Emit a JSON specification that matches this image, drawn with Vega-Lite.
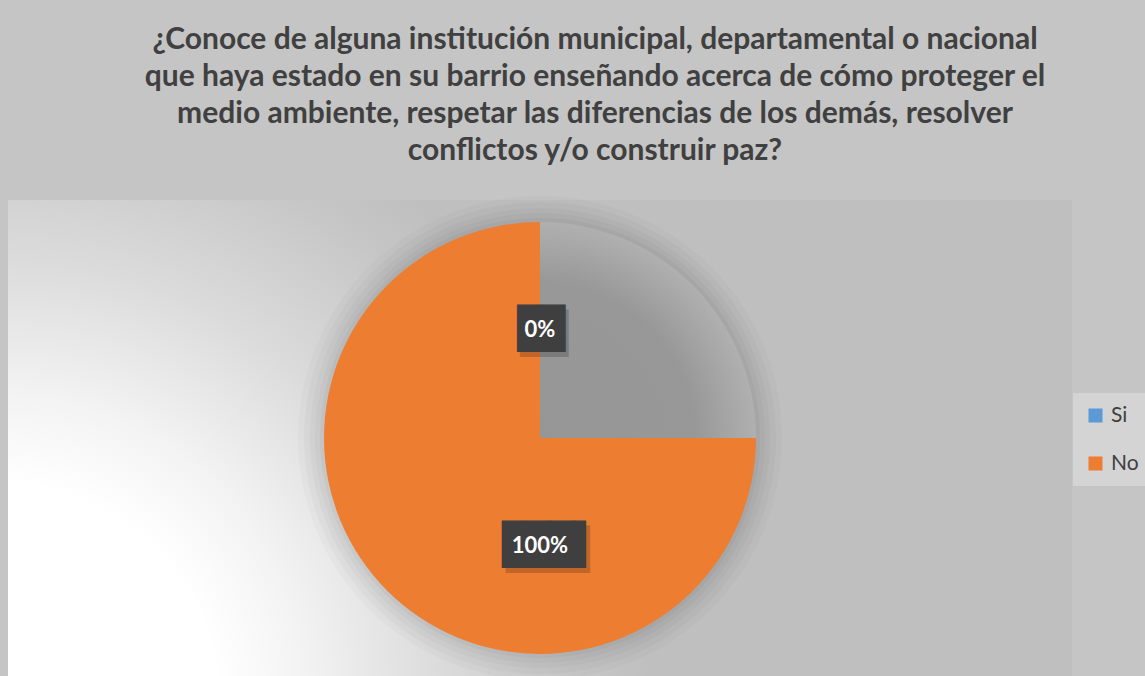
{
  "$schema": "https://vega.github.io/schema/vega-lite/v6.json",
  "width": 1064,
  "height": 476,
  "autosize": {"type": "none"},
  "padding": {"left": 8, "top": 200, "right": 73, "bottom": 0},
  "background": "#c5c5c5",
  "title": {
    "text": [
      "¿Conoce de alguna institución municipal, departamental o nacional",
      "que haya estado en su barrio enseñando acerca de cómo proteger el",
      "medio ambiente, respetar las diferencias de los demás, resolver",
      "conflictos y/o construir paz?"
    ],
    "font": "Lato",
    "fontSize": 30,
    "fontWeight": "bold",
    "color": "#404040",
    "lineHeight": 37,
    "anchor": "middle",
    "dx": 55,
    "offset": 30
  },
  "config": {"view": {"stroke": null}},
  "datasets": {
    "respuestas": [
      {"c": "Si", "v": 0, "orden": 1},
      {"c": "sombra", "v": 25, "orden": 2},
      {"c": "No", "v": 75, "orden": 3}
    ],
    "etiquetas": [
      {"c": "Si", "p": 0, "label": "0%", "orden": 1},
      {"c": "No", "p": 100, "label": "100%", "orden": 2}
    ],
    "circulo": [{"v": 100}]
  },
  "layer": [
    {
      "data": {"values": [{}]},
      "mark": {
        "type": "rect",
        "fill": {
          "gradient": "radial",
          "x1": -0.0075, "y1": 0.746, "r1": 0,
          "x2": -0.0075, "y2": 0.746, "r2": 0.61,
          "stops": [
            {"offset": 0, "color": "#ffffff"},
            {"offset": 0.33, "color": "#ffffff"},
            {"offset": 0.47, "color": "#f3f3f3"},
            {"offset": 0.68, "color": "#dbdbdb"},
            {"offset": 0.9, "color": "#c6c6c6"},
            {"offset": 1, "color": "#bfbfbf"}
          ]
        }
      },
      "encoding": {}
    },
    {
      "data": {"name": "circulo"},
      "mark": {"type": "arc", "outerRadius": 242, "fill": "#000000", "opacity": 0.02},
      "encoding": {"theta": {"field": "v", "type": "quantitative", "scale": {"domain": [0, 100]}}}
    },
    {
      "data": {"name": "circulo"},
      "mark": {"type": "arc", "outerRadius": 236, "fill": "#000000", "opacity": 0.022},
      "encoding": {"theta": {"field": "v", "type": "quantitative", "scale": {"domain": [0, 100]}}}
    },
    {
      "data": {"name": "circulo"},
      "mark": {"type": "arc", "outerRadius": 230, "fill": "#000000", "opacity": 0.025},
      "encoding": {"theta": {"field": "v", "type": "quantitative", "scale": {"domain": [0, 100]}}}
    },
    {
      "data": {"name": "circulo"},
      "mark": {"type": "arc", "outerRadius": 225, "fill": "#000000", "opacity": 0.025},
      "encoding": {"theta": {"field": "v", "type": "quantitative", "scale": {"domain": [0, 100]}}}
    },
    {
      "data": {"name": "circulo"},
      "mark": {"type": "arc", "outerRadius": 220, "fill": "#000000", "opacity": 0.03},
      "encoding": {"theta": {"field": "v", "type": "quantitative", "scale": {"domain": [0, 100]}}}
    },
    {
      "data": {"name": "respuestas"},
      "mark": {
        "type": "arc",
        "outerRadius": 216,
        "fill": {
          "gradient": "radial",
          "x1": 0, "y1": 1, "r1": 0,
          "x2": 0, "y2": 1, "r2": 1,
          "stops": [
            {"offset": 0, "color": "#969696"},
            {"offset": 0.72, "color": "#989898"},
            {"offset": 1, "color": "#b0b0b0"}
          ]
        }
      },
      "encoding": {
        "theta": {"field": "v", "type": "quantitative", "stack": true, "scale": {"domain": [0, 100]}},
        "order": {"field": "orden", "type": "quantitative"},
        "detail": {"field": "c"},
        "opacity": {"condition": {"test": "datum.c === 'sombra'", "value": 1}, "value": 0}
      }
    },
    {
      "data": {"name": "respuestas"},
      "mark": {"type": "arc", "outerRadius": 216},
      "encoding": {
        "theta": {"field": "v", "type": "quantitative", "stack": true, "scale": {"domain": [0, 100]}},
        "order": {"field": "orden", "type": "quantitative"},
        "color": {
          "field": "c",
          "type": "nominal",
          "scale": {"domain": ["Si", "No", "sombra"], "range": ["#5b9bd5", "#ed7d31", "rgba(0,0,0,0)"]},
          "legend": {
            "orient": "none",
            "legendX": 1065,
            "legendY": 193,
            "title": null,
            "values": ["Si", "No"],
            "symbolType": "square",
            "symbolSize": 196,
            "symbolStrokeWidth": 0,
            "labelFont": "Lato",
            "labelFontSize": 21,
            "labelColor": "#404040",
            "fillColor": "#d4d4d4",
            "padding": 12,
            "rowPadding": 26,
            "labelOffset": 5
          }
        }
      }
    },
    {
      "data": {"name": "etiquetas"},
      "transform": [{"filter": "datum.c === 'Si'"}],
      "mark": {"type": "text", "radius": 108, "font": "DejaVu Sans Mono", "fontSize": 40, "text": "██", "color": "#000000", "opacity": 0.18, "baseline": "middle", "align": "center", "dx": 4, "dy": 5},
      "encoding": {
        "theta": {"field": "p", "type": "quantitative", "stack": true, "scale": {"domain": [0, 100]}},
        "order": {"field": "orden", "type": "quantitative"},
        "detail": {"field": "c"}
      }
    },
    {
      "data": {"name": "etiquetas"},
      "transform": [{"filter": "datum.c === 'Si'"}],
      "mark": {"type": "text", "radius": 108, "font": "DejaVu Sans Mono", "fontSize": 40, "text": "██", "color": "#3f3f3f", "baseline": "middle", "align": "center", "dx": 1},
      "encoding": {
        "theta": {"field": "p", "type": "quantitative", "stack": true, "scale": {"domain": [0, 100]}},
        "order": {"field": "orden", "type": "quantitative"},
        "detail": {"field": "c"}
      }
    },
    {
      "data": {"name": "etiquetas"},
      "transform": [{"filter": "datum.c === 'No'"}],
      "mark": {"type": "text", "radius": 108, "font": "DejaVu Sans Mono", "fontSize": 40, "text": "███▌", "color": "#000000", "opacity": 0.18, "baseline": "middle", "align": "center", "dx": 14, "dy": 5},
      "encoding": {
        "theta": {"field": "p", "type": "quantitative", "stack": true, "scale": {"domain": [0, 100]}},
        "order": {"field": "orden", "type": "quantitative"},
        "detail": {"field": "c"}
      }
    },
    {
      "data": {"name": "etiquetas"},
      "transform": [{"filter": "datum.c === 'No'"}],
      "mark": {"type": "text", "radius": 108, "font": "DejaVu Sans Mono", "fontSize": 40, "text": "███▌", "color": "#3f3f3f", "baseline": "middle", "align": "center", "dx": 10},
      "encoding": {
        "theta": {"field": "p", "type": "quantitative", "stack": true, "scale": {"domain": [0, 100]}},
        "order": {"field": "orden", "type": "quantitative"},
        "detail": {"field": "c"}
      }
    },
    {
      "data": {"name": "etiquetas"},
      "mark": {"type": "text", "radius": 108, "font": "Lato", "fontSize": 22, "fontWeight": "bold", "color": "#ffffff", "baseline": "middle", "align": "center"},
      "encoding": {
        "theta": {"field": "p", "type": "quantitative", "stack": true, "scale": {"domain": [0, 100]}},
        "order": {"field": "orden", "type": "quantitative"},
        "detail": {"field": "c"},
        "text": {"field": "label"}
      }
    }
  ]
}
